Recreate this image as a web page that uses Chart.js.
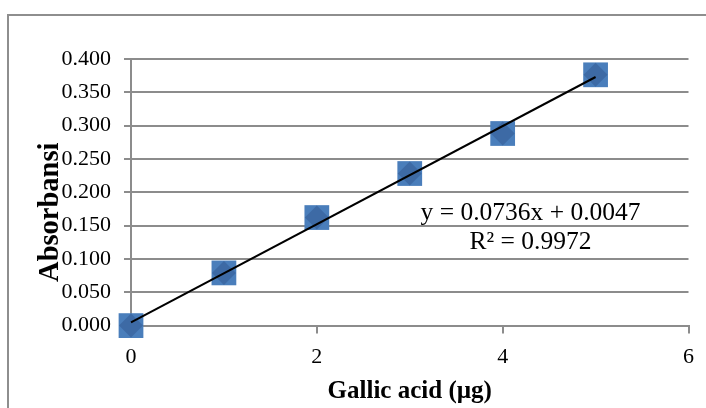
<!DOCTYPE html>
<html>
<head>
<meta charset="utf-8">
<script src="https://cdn.jsdelivr.net/npm/chart.js@4.4.0/dist/chart.umd.min.js"></script>
<style>
    html, body { margin: 0; padding: 0; background: #fff; }
    #moldura {
        position: absolute; left: 7px; top: 14px;
        width: 740px; height: 440px;
        border: 2px solid #8e8e8e; box-sizing: border-box;
    }
    #caixa { position: absolute; left: 0; top: 0; width: 706px; height: 408px; }
</style>
</head>
<body>
<div id="moldura"></div>
<div id="caixa"><canvas id="grafico"></canvas></div>
<script>
// Dados
const gallicAcid = [0, 1, 2, 3, 4, 5];
const absorbansi = [0.000, 0.079, 0.162, 0.228, 0.288, 0.376];

// Linha de tendência (extremos da reta y = 0.0736x + 0.0047)
const trendX = [0, 5];
const trendY = [0.0047, 0.3727];

const equacao = ['y = 0.0736x + 0.0047', 'R\u00B2 = 0.9972'];
const tituloY = 'Absorbansi';

const fonte = "'Liberation Serif', 'Times New Roman', serif";
const cinza = '#8c8c8c';

function pontos(xs, ys) {
    return xs.map((x, i) => ({ x: x, y: ys[i] }));
}

// Equação e título do eixo Y (o título fica um pouco abaixo do centro, como no original)
const textosPlugin = {
    id: 'textos',
    afterDatasetsDraw(chart) {
        const ctx = chart.ctx;
        const sx = chart.scales.x;
        const sy = chart.scales.y;
        ctx.save();
        ctx.font = "25.5px " + fonte;
        ctx.fillStyle = '#000';
        ctx.textAlign = 'center';
        ctx.textBaseline = 'middle';
        const ancoraX = 4.3;
        const ancoraY = [0.1685, 0.125];
        equacao.forEach((linha, i) => {
            ctx.fillText(linha, sx.getPixelForValue(ancoraX), sy.getPixelForValue(ancoraY[i]));
        });

        ctx.font = "bold 28.5px " + fonte;
        ctx.translate(sy.left + 14.5, sy.getPixelForValue(0.17));
        ctx.rotate(-Math.PI / 2);
        ctx.fillText(tituloY, 0, 0);
        ctx.restore();
    }
};

const ctx = document.getElementById('grafico').getContext('2d');
const grafico = new Chart(ctx, {
    type: 'scatter',
    data: {
        datasets: [
            {
                label: 'Tendência',
                type: 'line',
                data: pontos(trendX, trendY),
                borderColor: '#000',
                borderWidth: 2,
                pointRadius: 0,
                fill: false,
                clip: false,
                order: 0
            },
            {
                label: 'Losango',
                data: pontos(gallicAcid, absorbansi),
                pointStyle: 'rectRot',
                pointRadius: 12,
                backgroundColor: '#3d6aa5',
                borderWidth: 0,
                clip: false,
                order: 1
            },
            {
                label: 'Absorbansi',
                data: pontos(gallicAcid, absorbansi),
                pointStyle: 'rect',
                pointRadius: 17.5,
                backgroundColor: '#4a7ebb',
                borderWidth: 0,
                clip: false,
                order: 2
            }
        ]
    },
    options: {
        responsive: true,
        maintainAspectRatio: false,
        animation: false,
        events: [],
        layout: {
            padding: { left: 36, right: 13, top: 58.8, bottom: 3 }
        },
        plugins: {
            legend: { display: false },
            tooltip: { enabled: false }
        },
        scales: {
            x: {
                type: 'linear',
                min: 0,
                max: 6,
                grid: {
                    drawOnChartArea: false,
                    color: cinza,
                    lineWidth: 2,
                    tickLength: 8
                },
                border: { color: cinza, width: 2 },
                ticks: {
                    stepSize: 2,
                    padding: 10,
                    color: '#000',
                    font: { family: fonte, size: 22 }
                },
                title: {
                    display: true,
                    text: 'Gallic acid (\u00B5g)',
                    color: '#000',
                    font: { family: fonte, size: 25, weight: 'bold' },
                    padding: { top: -3.5, bottom: -1.5 }
                }
            },
            y: {
                min: 0,
                max: 0.4,
                grid: {
                    color: cinza,
                    lineWidth: 2,
                    tickLength: 7
                },
                border: { color: cinza, width: 2 },
                ticks: {
                    stepSize: 0.05,
                    padding: 13,
                    color: '#000',
                    font: { family: fonte, size: 22 },
                    callback: v => v.toFixed(3)
                },
                title: {
                    // reserva o espaço; o texto é desenhado pelo plugin
                    display: true,
                    text: tituloY,
                    color: 'rgba(0,0,0,0)',
                    font: { family: fonte, size: 28.5, weight: 'bold', lineHeight: 1 },
                    padding: { top: 0, bottom: -16 }
                }
            }
        }
    },
    plugins: [textosPlugin]
});
</script>
</body>
</html>
